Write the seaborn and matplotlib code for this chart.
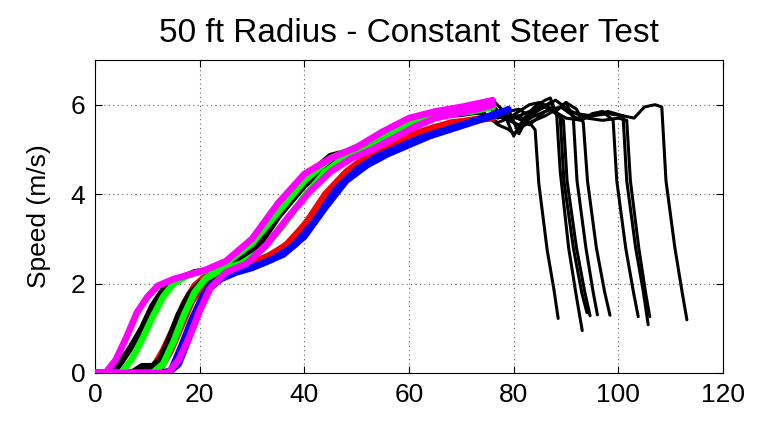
import numpy as np
import pandas as pd
import matplotlib
matplotlib.use("Agg")
import matplotlib.pyplot as plt
import seaborn as sns

TITLE = "50 ft Radius - Constant Steer Test"
YLABEL = "Speed (m/s)"
XTICKS = [0, 20, 40, 60, 80, 100, 120]
YTICKS = [0, 2, 4, 6]

# colored (early) part of each run
run_colors = ["red", "red", "blue", "blue", "black", "black", "lime", "lime", "magenta", "magenta"]

red1_x = [0, 9, 11, 13, 15, 17, 19, 21, 24, 28, 32, 36, 40, 44, 48, 52, 56, 60, 64, 68, 72, 76]
red1_y = [0, 0, 0.1, 0.5, 1.0, 1.55, 1.95, 2.15, 2.3, 2.4, 2.55, 2.8, 3.3, 4.0, 4.5, 4.85, 5.05, 5.3, 5.45, 5.6, 5.65, 5.7]
red2_x = [0, 10.5, 12.5, 14.5, 16.5, 18.5, 20.5, 22.5, 25.5, 29, 33, 37, 41, 45, 49, 53, 57, 61, 65, 69, 74]
red2_y = [0, 0, 0.1, 0.5, 1.05, 1.6, 1.95, 2.15, 2.3, 2.45, 2.6, 2.9, 3.45, 4.1, 4.55, 4.85, 5.1, 5.35, 5.5, 5.6, 5.7]
blue1_x = [0, 12.5, 14.5, 16.5, 18.5, 20.5, 22.5, 25, 28, 32, 36, 40, 44, 48, 52, 56, 60, 64, 68, 72, 76, 79]
blue1_y = [0, 0, 0.05, 0.6, 1.2, 1.7, 2.05, 2.2, 2.3, 2.45, 2.65, 3.05, 3.7, 4.3, 4.65, 4.9, 5.1, 5.3, 5.45, 5.6, 5.75, 5.9]
blue2_x = [0, 14, 16, 18, 20, 22, 24, 27, 30, 34, 38, 42, 46, 50, 54, 58, 62, 66, 70, 74, 78]
blue2_y = [0, 0, 0.2, 0.8, 1.4, 1.9, 2.1, 2.25, 2.35, 2.55, 2.85, 3.4, 4.1, 4.55, 4.85, 5.05, 5.25, 5.4, 5.55, 5.7, 5.85]
black1_x = [0, 3.5, 5, 7, 9, 11, 13, 16, 19, 22, 26, 30, 35, 40, 45, 50, 55, 60, 65, 70, 74]
black1_y = [0, 0, 0.25, 0.6, 1.0, 1.5, 1.85, 2.1, 2.25, 2.3, 2.45, 2.9, 3.65, 4.35, 4.85, 5.0, 5.3, 5.6, 5.8, 5.85, 5.85]
black2_x = [0, 7, 9, 11, 12.5, 14, 16, 18, 20, 23, 27, 31, 35, 40, 45, 50, 55, 60, 65, 70, 73]
black2_y = [0, 0, 0.15, 0.15, 0.3, 0.7, 1.3, 1.75, 2.0, 2.2, 2.45, 2.8, 3.5, 4.2, 4.7, 4.95, 5.3, 5.55, 5.75, 5.8, 5.85]
green1_x = [0, 5, 7, 9, 11, 13, 15, 18, 21, 25, 30, 35, 40, 45, 50, 55, 60, 65, 70, 75]
green1_y = [0, 0, 0.3, 0.75, 1.25, 1.7, 2.0, 2.2, 2.28, 2.45, 2.9, 3.6, 4.3, 4.8, 5.05, 5.35, 5.65, 5.8, 5.9, 6.0]
green2_x = [0, 11, 13, 15, 17, 19, 21, 24, 28, 32, 36, 40, 44, 48, 52, 56, 60, 64, 68, 72, 76]
green2_y = [0, 0, 0.2, 0.7, 1.3, 1.8, 2.1, 2.3, 2.45, 2.75, 3.3, 3.95, 4.5, 4.85, 5.0, 5.25, 5.5, 5.7, 5.8, 5.85, 5.95]
mag1_x = [0, 2, 4, 6, 8, 10, 12, 15, 18, 21, 25, 30, 35, 40, 45, 50, 55, 60, 65, 70, 76]
mag1_y = [0, 0, 0.3, 0.8, 1.35, 1.7, 1.95, 2.1, 2.2, 2.3, 2.5, 3.0, 3.8, 4.45, 4.8, 5.05, 5.4, 5.7, 5.85, 5.95, 6.1]
mag2_x = [0, 14, 16, 18, 20, 22, 25, 29, 33, 37, 41, 45, 49, 53, 57, 61, 65, 69, 73, 76]
mag2_y = [0, 0, 0.3, 0.8, 1.4, 1.9, 2.25, 2.45, 2.9, 3.5, 4.05, 4.5, 4.8, 5.0, 5.25, 5.5, 5.7, 5.8, 5.9, 6.0]

# black tail (late part, incl. the final deceleration) of each run
tail1_x = [80, 83, 86, 89, 92, 95, 98, 100.9, 101.6, 103.3, 104.8, 105.7]
tail1_y = [5.75, 5.55, 5.85, 5.95, 5.7, 5.75, 5.85, 5.75, 4.3, 2.8, 1.8, 1.08]
tail2_x = [81, 83, 86, 89, 92, 95, 98, 101, 103, 105, 107, 108.3, 109.1, 110.8, 112.2, 113.1]
tail2_y = [5.75, 5.6, 5.75, 5.95, 5.8, 5.75, 5.8, 5.75, 5.7, 5.95, 6.0, 5.95, 4.3, 2.8, 1.8, 1.19]
tail3_x = [81, 83, 86, 88, 90, 92, 93.3, 94.1, 95.8, 97.4, 98.4]
tail3_y = [5.35, 5.8, 5.95, 5.85, 6.05, 5.9, 5.6, 4.3, 2.8, 1.8, 1.29]
tail4_x = [80, 82, 84, 86, 87, 88.2, 88.9, 90.5, 92, 93.1]
tail4_y = [5.3, 5.7, 5.95, 6.1, 6.15, 5.8, 4.5, 2.8, 1.7, 0.95]
tail5_x = [77, 79, 80, 81.5, 83, 84.1, 84.8, 86.4, 87.7, 88.5]
tail5_y = [5.55, 5.45, 5.35, 5.5, 5.6, 5.44, 4.24, 2.75, 1.86, 1.22]
tail6_x = [77, 79, 81, 83, 85, 87, 89.5, 90.2, 92, 93.6, 94.6]
tail6_y = [5.6, 5.7, 5.85, 6.0, 6.05, 5.9, 5.65, 4.3, 2.8, 1.8, 1.28]
tail7_x = [77, 79, 81, 83, 85, 87, 88.9, 89.6, 91.4, 93, 94]
tail7_y = [5.7, 5.85, 5.9, 5.75, 5.9, 6.05, 5.7, 4.3, 2.8, 1.8, 1.35]
tail8_x = [79, 81, 84, 86, 88, 90, 91.4, 92.1, 93.8, 95.2, 96]
tail8_y = [5.65, 5.75, 5.9, 6.0, 5.85, 6.05, 5.7, 4.3, 2.8, 1.8, 1.3]
tail9_x = [79, 82, 85, 88, 91, 94, 97, 100, 101.6, 102.3, 103.9, 105.2, 106]
tail9_y = [5.75, 5.65, 5.9, 6.1, 5.85, 5.7, 5.65, 5.7, 5.65, 4.3, 2.8, 1.8, 1.26]
tail10_x = [78, 81, 84, 87, 90, 93, 95, 97, 99, 99.7, 101.4, 102.9, 103.8]
tail10_y = [5.7, 5.55, 5.75, 5.9, 5.7, 5.65, 5.8, 5.85, 5.65, 4.3, 2.8, 1.8, 1.26]

colored_x = [red1_x, red2_x, blue1_x, blue2_x, black1_x, black2_x, green1_x, green2_x, mag1_x, mag2_x]
colored_y = [red1_y, red2_y, blue1_y, blue2_y, black1_y, black2_y, green1_y, green2_y, mag1_y, mag2_y]
tails_x = [tail1_x, tail2_x, tail3_x, tail4_x, tail5_x, tail6_x, tail7_x, tail8_x, tail9_x, tail10_x]
tails_y = [tail1_y, tail2_y, tail3_y, tail4_y, tail5_y, tail6_y, tail7_y, tail8_y, tail9_y, tail10_y]

sns.set_style("white")
plt.rcParams["font.family"] = ["Liberation Sans", "DejaVu Sans"]
for k in ["text.color", "axes.labelcolor", "xtick.color", "ytick.color"]:
    plt.rcParams[k] = "black"

fig = plt.figure(figsize=(7.63, 4.24), dpi=100)
ax = fig.add_axes([0.1245, 0.1203, 0.8231, 0.7382])

# black tails first (underneath)
for cx, cy, tx, ty in zip(colored_x, colored_y, tails_x, tails_y):
    df = pd.DataFrame({"x": [cx[-1]] + tx, "y": [cy[-1]] + ty})
    sns.lineplot(data=df, x="x", y="y", sort=False, estimator=None,
                 color="black", lw=2.2, ax=ax, zorder=2)

for cx, cy, c in zip(colored_x, colored_y, run_colors):
    df = pd.DataFrame({"x": cx, "y": cy})
    sns.lineplot(data=df, x="x", y="y", sort=False, estimator=None,
                 color=c, lw=4.8, ax=ax, zorder=3)

ax.set_xlim(0, 120)
ax.set_ylim(0, 7)
ax.set_xticks(XTICKS)
ax.set_yticks(YTICKS)
ax.set_xticklabels([str(v) for v in XTICKS], fontsize=19)
ax.set_yticklabels([str(v) for v in YTICKS], fontsize=19)
ax.grid(True, linestyle=(0, (1, 3)), color="#666666", linewidth=0.8)
ax.tick_params(direction="in", length=5, width=0.8,
               top=True, right=True, bottom=True, left=True, pad=7, colors="black")
for s in ax.spines.values():
    s.set_visible(True)
    s.set_color("black")
    s.set_linewidth(0.8)
ax.set_xlabel("")
ax.set_ylabel(YLABEL, fontsize=19, labelpad=14)
ax.set_title(TITLE, fontsize=24, pad=13)

fig.savefig("out.png", dpi=100)
